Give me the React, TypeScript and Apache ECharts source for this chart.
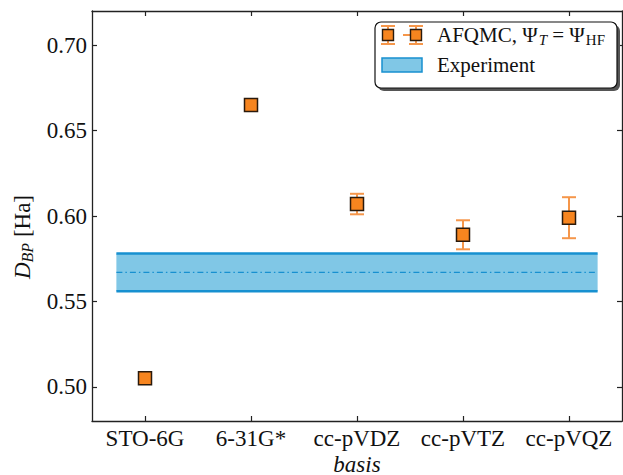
import React, { useEffect, useRef } from "react";
import * as echarts from "echarts";

const categories = ["STO-6G", "6-31G*", "cc-pVDZ", "cc-pVTZ", "cc-pVQZ"];
const afqmcValues = [0.505, 0.665, 0.607, 0.589, 0.599];
const afqmcErrors = [0.0, 0.0, 0.006, 0.0085, 0.012];
const experimentValue = 0.567;
const experimentError = 0.011;
const experimentSpan = [-0.27, 4.27];
const yTicks = [0.5, 0.55, 0.6, 0.65, 0.7];
const xTicks = [0, 1, 2, 3, 4];

const FONT = "Liberation Serif";
const ORANGE = "#f7851f";
const ERR = "#f5964a";
const EDGE = "#2a1a0c";
const BLUE = "#1790d0";
const BLUE_FILL = "#80c7e6";
const AXIS = "#222";

export default function App() {
  const ref = useRef<HTMLDivElement>(null);
  useEffect(() => {
    if (!ref.current) return;
    const chart = echarts.init(ref.current, null, { renderer: "svg" });

    const bandData = [[experimentSpan[0], experimentSpan[1], experimentValue - experimentError, experimentValue + experimentError, experimentValue]];
    const errData = categories
      .map((_, i) => [i, afqmcValues[i] - afqmcErrors[i], afqmcValues[i] + afqmcErrors[i], afqmcErrors[i]])
      .filter((d) => d[3] > 0);
    const pointData = categories.map((_, i) => [i, afqmcValues[i]]);

    const xBase = {
      type: "value",
      min: -0.5,
      max: 4.5,
      splitLine: { show: false },
      axisLine: { show: true, onZero: false, lineStyle: { color: AXIS, width: 1.3 } },
      axisTick: { show: true, inside: true, length: 5, customValues: xTicks, lineStyle: { color: AXIS, width: 1.2 } },
    };
    const yBase = {
      type: "value",
      min: 0.48,
      max: 0.72,
      splitLine: { show: false },
      axisLine: { show: true, onZero: false, lineStyle: { color: AXIS, width: 1.3 } },
      axisTick: { show: true, inside: true, length: 5, customValues: yTicks, lineStyle: { color: AXIS, width: 1.2 } },
    };

    const option: any = {
      animation: false,
      backgroundColor: "#ffffff",
      textStyle: { fontFamily: FONT },
      grid: { left: 92, top: 11, width: 530, height: 410, containLabel: false },
      xAxis: [
        {
          ...xBase,
          position: "bottom",
          axisLabel: {
            show: true,
            customValues: xTicks,
            formatter: (v: number) => categories[Math.round(v)] ?? "",
            fontFamily: FONT,
            fontSize: 23,
            color: "#111",
            margin: 6,
          },
        },
        { ...xBase, position: "top", axisLabel: { show: false } },
      ],
      yAxis: [
        {
          ...yBase,
          position: "left",
          axisLabel: {
            show: true,
            customValues: yTicks,
            formatter: (v: number) => v.toFixed(2),
            fontFamily: FONT,
            fontSize: 23,
            color: "#111",
            margin: 5,
          },
        },
        { ...yBase, position: "right", axisLabel: { show: false } },
      ],
      series: [
        {
          type: "custom",
          xAxisIndex: 0,
          yAxisIndex: 0,
          z: 1,
          encode: { x: [0, 1], y: [2, 3, 4] },
          data: bandData,
          renderItem: (params: any, api: any) => {
            const tl = api.coord([api.value(0), api.value(3)]);
            const br = api.coord([api.value(1), api.value(2)]);
            const mid = api.coord([api.value(0), api.value(4)]);
            return {
              type: "group",
              children: [
                { type: "rect", shape: { x: tl[0], y: tl[1], width: br[0] - tl[0], height: br[1] - tl[1] }, style: { fill: BLUE_FILL } },
                { type: "line", shape: { x1: tl[0], y1: tl[1], x2: br[0], y2: tl[1] }, style: { stroke: BLUE, lineWidth: 2.5 } },
                { type: "line", shape: { x1: tl[0], y1: br[1], x2: br[0], y2: br[1] }, style: { stroke: BLUE, lineWidth: 2.5 } },
                { type: "line", shape: { x1: tl[0], y1: mid[1], x2: br[0], y2: mid[1] }, style: { stroke: BLUE, lineWidth: 1.2, lineDash: [6, 3, 1.5, 3] } },
              ],
            };
          },
        },
        {
          type: "custom",
          xAxisIndex: 0,
          yAxisIndex: 0,
          z: 2,
          encode: { x: 0, y: [1, 2] },
          data: errData,
          renderItem: (params: any, api: any) => {
            const lo = api.coord([api.value(0), api.value(1)]);
            const hi = api.coord([api.value(0), api.value(2)]);
            const half = 7;
            const st = { stroke: ERR, lineWidth: 2 };
            return {
              type: "group",
              children: [
                { type: "line", shape: { x1: lo[0], y1: lo[1], x2: hi[0], y2: hi[1] }, style: st },
                { type: "line", shape: { x1: lo[0] - half, y1: lo[1], x2: lo[0] + half, y2: lo[1] }, style: st },
                { type: "line", shape: { x1: hi[0] - half, y1: hi[1], x2: hi[0] + half, y2: hi[1] }, style: st },
              ],
            };
          },
        },
        {
          type: "scatter",
          xAxisIndex: 0,
          yAxisIndex: 0,
          z: 3,
          symbol: "rect",
          symbolSize: 13,
          itemStyle: { color: ORANGE, borderColor: EDGE, borderWidth: 1.5, opacity: 1 },
          data: pointData,
        },
      ],
      graphic: [
        { type: "rect", z: 100, shape: { x: 378, y: 25, width: 242, height: 66, r: 6 }, style: { fill: "#555" } },
        { type: "rect", z: 101, shape: { x: 375, y: 22, width: 242, height: 66, r: 6 }, style: { fill: "#fff", stroke: "#111", lineWidth: 1.2 } },
        { type: "line", z: 102, shape: { x1: 388, y1: 26, x2: 388, y2: 44 }, style: { stroke: ERR, lineWidth: 2 } },
        { type: "line", z: 102, shape: { x1: 381, y1: 26, x2: 395, y2: 26 }, style: { stroke: ERR, lineWidth: 2 } },
        { type: "line", z: 102, shape: { x1: 381, y1: 44, x2: 395, y2: 44 }, style: { stroke: ERR, lineWidth: 2 } },
        { type: "line", z: 102, shape: { x1: 416, y1: 26, x2: 416, y2: 44 }, style: { stroke: ERR, lineWidth: 2 } },
        { type: "line", z: 102, shape: { x1: 409, y1: 26, x2: 423, y2: 26 }, style: { stroke: ERR, lineWidth: 2 } },
        { type: "line", z: 102, shape: { x1: 409, y1: 44, x2: 423, y2: 44 }, style: { stroke: ERR, lineWidth: 2 } },
        { type: "line", z: 102, shape: { x1: 403, y1: 35, x2: 410, y2: 35 }, style: { stroke: ERR, lineWidth: 2 } },
        { type: "rect", z: 103, shape: { x: 382.5, y: 29.5, width: 11, height: 11 }, style: { fill: ORANGE, stroke: EDGE, lineWidth: 1.4 } },
        { type: "rect", z: 103, shape: { x: 410.5, y: 29.5, width: 11, height: 11 }, style: { fill: ORANGE, stroke: EDGE, lineWidth: 1.4 } },
        {
          type: "text",
          z: 103,
          x: 437,
          y: 35,
          style: {
            text: "{a|AFQMC, Ψ}{s|T}{a| = Ψ}{h|HF}",
            verticalAlign: "middle",
            fill: "#111",
            rich: {
              a: { fontFamily: FONT, fontSize: 21, fill: "#111", lineHeight: 24, verticalAlign: "middle" },
              s: { fontFamily: FONT, fontSize: 15, fontStyle: "italic", fill: "#111", padding: [10, 0, 0, 1], verticalAlign: "middle" },
              h: { fontFamily: FONT, fontSize: 15, fill: "#111", padding: [10, 0, 0, 1], verticalAlign: "middle" },
            },
          },
        },
        { type: "rect", z: 103, shape: { x: 382, y: 58, width: 40, height: 14 }, style: { fill: BLUE_FILL, stroke: BLUE, lineWidth: 1.5 } },
        {
          type: "text",
          z: 103,
          x: 437,
          y: 65,
          style: { text: "Experiment", fontFamily: FONT, fontSize: 21, fill: "#111", verticalAlign: "middle" },
        },
        {
          type: "text",
          x: 357,
          y: 464,
          style: { text: "basis", fontFamily: FONT, fontSize: 23, fontStyle: "italic", fill: "#111", align: "center", verticalAlign: "middle" },
        },
        {
          type: "text",
          x: 22,
          y: 237,
          rotation: Math.PI / 2,
          style: {
            text: "{d|D}{b|BP}{n| [Ha]}",
            align: "center",
            verticalAlign: "middle",
            rich: {
              d: { fontFamily: FONT, fontSize: 23, fontStyle: "italic", fill: "#111", lineHeight: 26, verticalAlign: "middle" },
              b: { fontFamily: FONT, fontSize: 16, fontStyle: "italic", fill: "#111", padding: [10, 0, 0, 0], verticalAlign: "middle" },
              n: { fontFamily: FONT, fontSize: 23, fill: "#111", lineHeight: 26, verticalAlign: "middle" },
            },
          },
        },
      ],
    };

    chart.setOption(option);
    return () => chart.dispose();
  }, []);

  return <div ref={ref} style={{ width: 623, height: 475, position: "absolute", left: 0, top: 0 }} />;
}
